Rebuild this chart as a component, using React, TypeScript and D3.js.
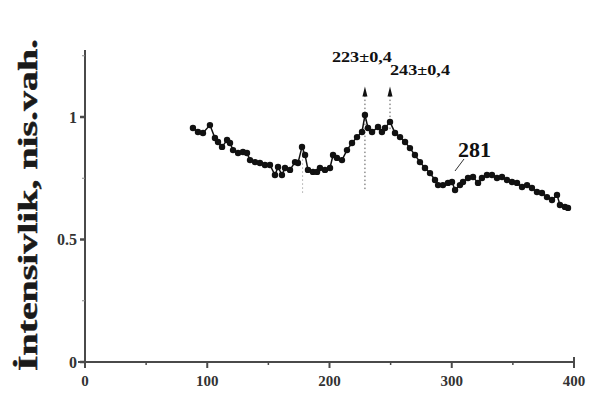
import { useMemo } from "react";
import * as d3 from "d3";

// wavelength, nm
const waveX = [
  88.3, 92.4, 96.5, 102.2, 106.3, 108.8, 112.1, 116.2, 118.6, 121.1, 125.2, 129.2, 132.5, 135.0,
  139.1, 143.1, 147.2, 151.3, 155.4, 157.9, 161.1, 163.6, 167.7, 171.8, 174.2, 177.5, 180.0,
  182.4, 186.5, 189.8, 192.2, 196.3, 200.4, 202.9, 206.1, 210.2, 214.3, 218.4, 222.5, 226.6,
  229.0, 231.5, 234.8, 239.7, 242.9, 245.4, 249.5, 253.6, 257.7, 261.8, 265.8, 269.9, 274.0,
  278.1, 282.2, 286.3, 288.8, 292.8, 296.9, 300.2, 302.7, 306.7, 309.2, 313.3, 317.4, 321.5,
  324.7, 328.8, 332.9, 337.0, 341.1, 345.2, 349.3, 353.4, 357.5, 361.6, 365.6, 369.7, 373.8,
  377.9, 382.0, 386.1, 388.5, 392.6, 395.1,
];
// normalised intensity
const intensity = [
  0.955, 0.939, 0.935, 0.967, 0.914, 0.898, 0.878, 0.906, 0.894, 0.865, 0.853, 0.857, 0.853, 0.824,
  0.816, 0.812, 0.804, 0.804, 0.763, 0.796, 0.763, 0.792, 0.784, 0.816, 0.812, 0.878, 0.845,
  0.784, 0.776, 0.776, 0.792, 0.784, 0.792, 0.845, 0.833, 0.824, 0.865, 0.894, 0.918, 0.939,
  1.008, 0.955, 0.939, 0.959, 0.939, 0.955, 0.98, 0.935, 0.918, 0.898, 0.873, 0.845, 0.816,
  0.792, 0.771, 0.743, 0.722, 0.722, 0.731, 0.735, 0.702, 0.722, 0.735, 0.751, 0.755, 0.731,
  0.751, 0.763, 0.763, 0.751, 0.755, 0.743, 0.735, 0.731, 0.714, 0.722, 0.71, 0.694, 0.69,
  0.673, 0.661, 0.682, 0.641, 0.633, 0.629,
];

const xTicks = [0, 100, 200, 300, 400];
const xMinor = [50, 150, 250, 350];
const yTicks = [0, 0.5, 1];
const yTickLabels = ["0", "0.5", "1"];
const yMinor = [0.25, 0.75, 1.25];

// annotated peaks (drawn where they sit on the plot)
const peakX = [229, 249.5];
const peakLabels = ["223±0,4", "243±0,4"];
const peakBottom = [0.7, 0.95];
const shoulderX = 178;

export default function App() {
  const W = 595;
  const H = 394;
  const x = useMemo(() => d3.scaleLinear().domain([0, 400]).range([85, 574]), []);
  const y = useMemo(() => d3.scaleLinear().domain([0, 1]).range([362, 117]), []);

  const pts = waveX.map((v, i) => [v, intensity[i]] as [number, number]);
  const line = d3
    .line<[number, number]>()
    .x((d) => x(d[0]))
    .y((d) => y(d[1]));

  const serif = "'Liberation Serif', 'DejaVu Serif', serif";
  const axisCol = "#4a4a4a";
  const tipY = y(1.12);

  return (
    <div style={{ position: "fixed", left: 0, top: 0 }}>
      <svg width={W} height={H} style={{ display: "block", background: "#fff" }}>
        {/* y title */}
        <text
          transform={`translate(37,${(38 + 372) / 2}) rotate(-90)`}
          textAnchor="middle"
          fontFamily={serif}
          fontWeight="bold"
          fontSize={28}
          fill="#1a1a1a"
          stroke="#1a1a1a"
          strokeWidth={0.5}
          textLength={332}
          lengthAdjust="spacingAndGlyphs"
        >
          İntensivlik, nis.vah.
        </text>

        {/* axes */}
        <line x1={x(0)} x2={x(0)} y1={50} y2={368} stroke={axisCol} strokeWidth={2} />
        <line x1={78} x2={x(400)} y1={y(0)} y2={y(0)} stroke={axisCol} strokeWidth={2} />
        <line x1={x(400)} x2={x(400)} y1={y(0)} y2={y(0) - 5} stroke={axisCol} strokeWidth={2} />

        {xTicks.map((t) => (
          <g key={"xt" + t}>
            <line x1={x(t)} x2={x(t)} y1={y(0)} y2={y(0) + 6} stroke={axisCol} strokeWidth={2} />
            <text
              x={x(t)}
              y={y(0) + 24}
              textAnchor="middle"
              fontFamily={serif}
              fontWeight="bold"
              fontSize={15}
              fill="#333"
            >
              {t}
            </text>
          </g>
        ))}
        {xMinor.map((t) => (
          <line key={"xm" + t} x1={x(t)} x2={x(t)} y1={y(0)} y2={y(0) + 3} stroke={axisCol} strokeWidth={1.5} />
        ))}

        {yTicks.map((t, i) => (
          <g key={"yt" + t}>
            <line x1={x(0) - 5} x2={x(0)} y1={y(t)} y2={y(t)} stroke={axisCol} strokeWidth={2.5} />
            <text
              x={x(0) - 8}
              y={y(t)}
              dy="0.35em"
              textAnchor="end"
              fontFamily={serif}
              fontWeight="bold"
              fontSize={16}
              fill="#333"
            >
              {yTickLabels[i]}
            </text>
          </g>
        ))}
        {yMinor.map((t) => (
          <line key={"ym" + t} x1={x(0) - 3} x2={x(0)} y1={y(t)} y2={y(t)} stroke="#888" strokeWidth={1} />
        ))}

        {/* dotted markers */}
        {peakX.map((px, i) => (
          <g key={"pk" + i}>
            <line
              x1={x(px)}
              x2={x(px)}
              y1={tipY + 8}
              y2={y(peakBottom[i])}
              stroke="#555"
              strokeWidth={1}
              strokeDasharray="1.5 2.5"
            />
            <path
              d={`M${x(px)},${tipY - 1} L${x(px) - 2.5},${tipY + 9} L${x(px) + 2.5},${tipY + 9} Z`}
              fill="#111"
            />
          </g>
        ))}
        <line
          x1={x(shoulderX)}
          x2={x(shoulderX)}
          y1={y(0.86)}
          y2={y(0.69)}
          stroke="#aaa"
          strokeWidth={1}
          strokeDasharray="1.5 2.5"
        />

        <text x={x(peakX[0]) - 3} y={62} textAnchor="middle" fontFamily={serif} fontWeight="bold" fontSize={15} fill="#111"
          textLength={60} lengthAdjust="spacingAndGlyphs">
          {peakLabels[0]}
        </text>
        <text x={x(peakX[1]) + 30} y={75} textAnchor="middle" fontFamily={serif} fontWeight="bold" fontSize={15} fill="#111"
          textLength={60} lengthAdjust="spacingAndGlyphs">
          {peakLabels[1]}
        </text>

        {/* data */}
        <path d={line(pts) ?? ""} fill="none" stroke="#111" strokeWidth={1.5} />
        {pts.map((d, i) => (
          <circle key={i} cx={x(d[0])} cy={y(d[1])} r={3.2} fill="#111" />
        ))}

        {/* 281 label */}
        <text x={458} y={157} fontFamily={serif} fontWeight="bold" fontSize={22} fill="#111">
          281
        </text>
        <line x1={464} y1={159} x2={455} y2={171} stroke="#333" strokeWidth={1} />
      </svg>
    </div>
  );
}
